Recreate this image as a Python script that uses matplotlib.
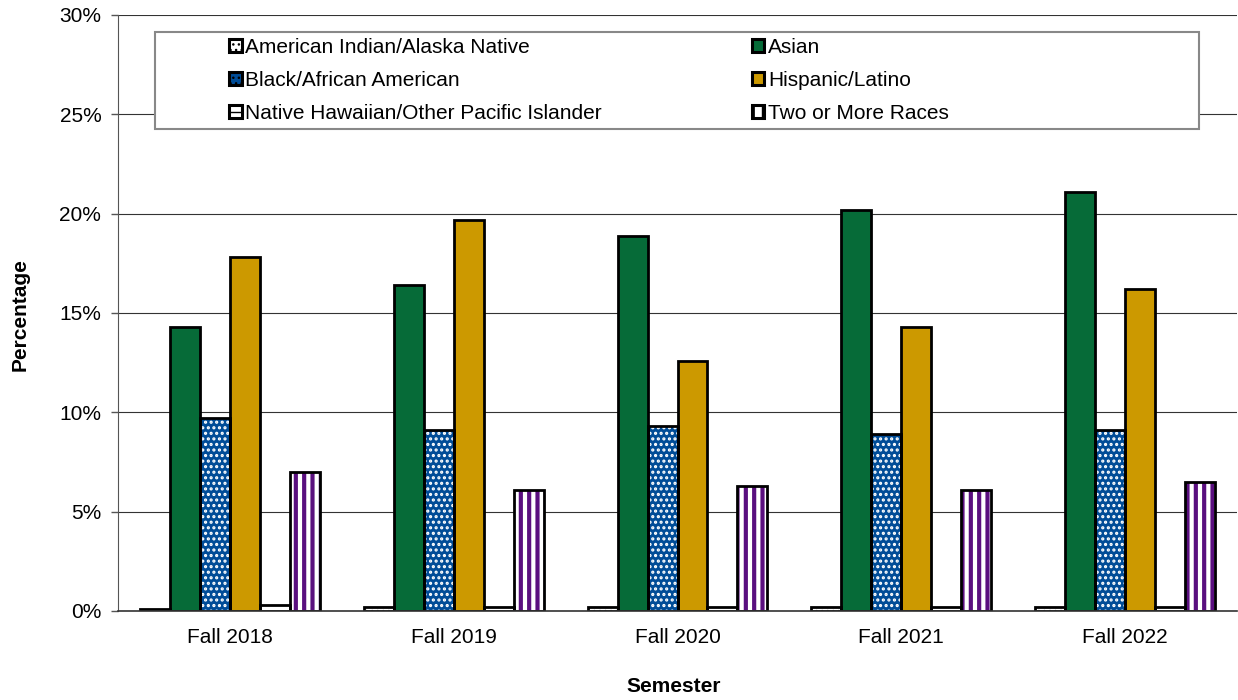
import matplotlib
matplotlib.use("Agg")
import matplotlib.pyplot as plt
import numpy as np
from matplotlib.patches import Patch, Rectangle
from matplotlib.ticker import FuncFormatter

plt.rcParams['font.family'] = ['Liberation Sans', 'DejaVu Sans']

semesters = ["Fall 2018", "Fall 2019", "Fall 2020", "Fall 2021", "Fall 2022"]
groups = [
    "American Indian/Alaska Native",
    "Asian",
    "Black/African American",
    "Hispanic/Latino",
    "Native Hawaiian/Other Pacific Islander",
    "Two or More Races",
]
aian = [0.1, 0.2, 0.2, 0.2, 0.2]
asian = [14.3, 16.4, 18.9, 20.2, 21.1]
black = [9.7, 9.1, 9.3, 8.9, 9.1]
hispanic = [17.8, 19.7, 12.6, 14.3, 16.2]
nhpi = [0.3, 0.2, 0.2, 0.2, 0.2]
multi = [7.0, 6.1, 6.3, 6.1, 6.5]
series = [aian, asian, black, hispanic, nhpi, multi]

# face colour, hatch pattern, hatch colour, hatch line width
styles = [
    ("white", "...", "#222222", 1.0),
    ("#066B38", None, None, 1.0),
    ("#004C97", "...", "white", 1.5),
    ("#CC9900", None, None, 1.0),
    ("white", "--", "#4A6F8A", 1.8),
    ("white", "||", "#5A0F7F", 3.0),
]

W, H = 1238, 700
fig = plt.figure(figsize=(W / 100, H / 100), dpi=100)
ax = fig.add_axes([118 / W, 1 - 611 / H, 1119 / W, 596 / H])

x = np.arange(len(semesters))
width = 0.134
n = len(series)
for i, (vals, (fc, hatch, hc, hlw)) in enumerate(zip(series, styles)):
    pos = x + (i - (n - 1) / 2) * width
    with plt.rc_context({'hatch.linewidth': hlw}):
        ax.bar(pos, vals, width, color=fc, hatch=hatch,
               edgecolor=hc if hc else fc, linewidth=0, zorder=3)
    ax.bar(pos, vals, width, fill=False, edgecolor="black", linewidth=2.0, zorder=4)

ax.set_ylim(0, 30)
ax.set_xlim(-0.5, len(semesters) - 0.5)
ax.set_yticks(np.arange(0, 31, 5))
ax.yaxis.set_major_formatter(FuncFormatter(lambda v, p: f"{v:.0f}%"))
ax.set_xticks(x)
ax.set_xticklabels(semesters)
ax.tick_params(axis='y', labelsize=15, length=5, color="#555555", width=1, pad=7)
ax.tick_params(axis='x', labelsize=15, length=0, pad=12.5)
ax.grid(axis='y', color="#333333", linewidth=0.8, zorder=0)
ax.set_axisbelow(True)
for s in ("top", "right"):
    ax.spines[s].set_visible(False)
ax.spines["left"].set_color("#555555")
ax.spines["bottom"].set_color("#333333")
ax.spines["bottom"].set_linewidth(1.2)
ax.spines["bottom"].set_zorder(5)

fig.text(20 / W, 1 - 315 / H, "Percentage", fontsize=15, fontweight="bold",
         rotation=90, ha="center", va="center")
fig.text(674 / W, 1 - 687 / H, "Semester", fontsize=15, fontweight="bold",
         ha="center", va="center")

# legend frame drawn separately so the entries can sit inside it freely
frame = Rectangle((155 / W, 1 - 129 / H), (1199 - 155) / W, (129 - 32) / H,
                  transform=fig.transFigure, facecolor="white",
                  edgecolor="#888888", linewidth=1.5, zorder=2)
fig.add_artist(frame)

handles = []
for (fc, hatch, hc, hlw), name in zip(styles, groups):
    handles.append(Patch(facecolor=fc, edgecolor=hc if hc else fc, hatch=hatch,
                         linewidth=0, label=name))
order = [0, 2, 4, 1, 3, 5]
leg = fig.legend([handles[k] for k in order], [groups[k] for k in order],
                 ncol=2, loc="upper left",
                 bbox_to_anchor=(229 / W, 1 - 38 / H),
                 fontsize=15, frameon=False,
                 handlelength=0.6, handleheight=0.6,
                 handletextpad=0.18, borderpad=0, labelspacing=0.67,
                 borderaxespad=0, columnspacing=7.2)
for h in leg.legend_handles:
    h.set_linewidth(2.2)
    h.set_edgecolor("black")
leg.set_zorder(10)

fig.savefig("out.png", dpi=100)
